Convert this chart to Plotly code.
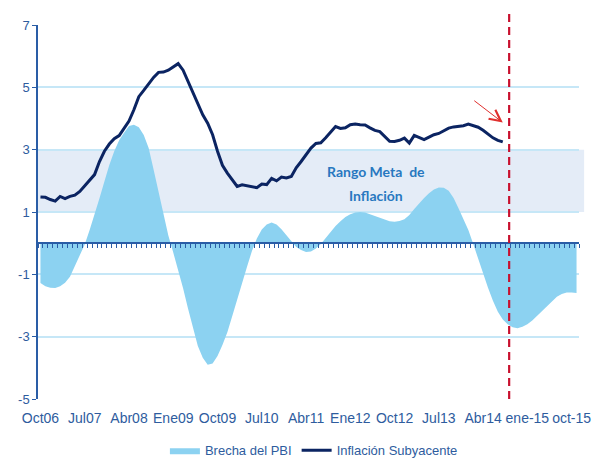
import plotly.graph_objects as go

# Monthly series, Oct-2006 .. Nov-2015 (month index 0..109)
months = list(range(110))

# Output gap (% of potential GDP)
brecha_pbi = [
    -1.28, -1.38, -1.43, -1.44, -1.38, -1.27, -1.08, -0.75, -0.42, -0.04,
    0.42, 0.91, 1.44, 1.98, 2.51, 2.95, 3.30, 3.54, 3.76, 3.80,
    3.72, 3.47, 3.05, 2.36, 1.62, 0.88, 0.25, -0.30, -0.85, -1.45,
    -2.10, -2.75, -3.30, -3.68, -3.90, -3.86, -3.62, -3.27, -2.86, -2.34,
    -1.79, -1.23, -0.76, -0.25, 0.15, 0.44, 0.60, 0.66, 0.60, 0.45,
    0.27, 0.07, -0.12, -0.22, -0.28, -0.27, -0.17, -0.03, 0.17, 0.36,
    0.55, 0.70, 0.84, 0.93, 0.98, 1.00, 0.98, 0.93, 0.87, 0.80,
    0.74, 0.70, 0.69, 0.71, 0.77, 0.90, 1.10, 1.28, 1.45, 1.60,
    1.72, 1.79, 1.78, 1.68, 1.45, 1.12, 0.78, 0.42, -0.03, -0.52,
    -1.00, -1.43, -1.85, -2.20, -2.45, -2.60, -2.70, -2.73, -2.68, -2.60,
    -2.48, -2.33, -2.17, -2.00, -1.85, -1.72, -1.63, -1.58, -1.58, -1.60,
]

# Core inflation (12-month %), Oct-2006 .. Aug-2014
inflacion_subyacente = [
    1.48, 1.47, 1.40, 1.35, 1.50, 1.43, 1.50, 1.54, 1.66, 1.85,
    2.03, 2.20, 2.62, 2.95, 3.18, 3.35, 3.45, 3.70, 3.92, 4.28,
    4.70, 4.90, 5.12, 5.32, 5.48, 5.49, 5.55, 5.67, 5.76, 5.55,
    5.20, 4.80, 4.45, 4.12, 3.85, 3.48, 2.95, 2.50, 2.25, 2.02,
    1.82, 1.87, 1.84, 1.80, 1.78, 1.90, 1.88, 2.08, 2.00, 2.12,
    2.09, 2.14, 2.42, 2.62, 2.85, 3.05, 3.20, 3.22, 3.38, 3.55,
    3.74, 3.68, 3.70, 3.80, 3.82, 3.80, 3.79, 3.70, 3.62, 3.58,
    3.44, 3.27, 3.26, 3.30, 3.37, 3.21, 3.46, 3.40, 3.32, 3.40,
    3.48, 3.52, 3.60, 3.69, 3.73, 3.75, 3.77, 3.82, 3.77, 3.72,
    3.62, 3.50, 3.38, 3.30, 3.25,
]

tick_positions = [0, 9, 18, 27, 36, 45, 54, 63, 72, 81, 90, 99, 108]
tick_labels = ["Oct06", "Jul07", "Abr08", "Ene09", "Oct09", "Jul10", "Abr11",
               "Ene12", "Oct12", "Jul13", "Abr14", "ene-15", "oct-15"]
y_ticks = [-5, -3, -1, 1, 3, 5, 7]
y_tick_labels = ["-5", "-3", "-1", "1", "3", "5", "7"]

meta_rango = (1, 3)          # inflation target band
corte_proyeccion = 95.3      # forecast cut-off

SANS = "Liberation Sans, Arial, sans-serif"
TXT_BLUE = "#2E5C9E"
AXIS_BLUE = "#2A5DA6"

fig = go.Figure()

fig.add_trace(go.Scatter(
    x=months, y=brecha_pbi, name="Brecha del PBI",
    xaxis="x2", yaxis="y",
    mode="lines", line=dict(width=0, color="#8CD2F1"),
    fill="tozeroy", fillcolor="#8CD2F1", hoverinfo="skip",
))
fig.add_trace(go.Scatter(
    x=months[:len(inflacion_subyacente)], y=inflacion_subyacente,
    name="Inflación Subyacente", mode="lines",
    line=dict(color="#0B2462", width=3), hoverinfo="skip",
))

xrange = [-0.5, 109.5]
fig.update_layout(
    width=597, height=459,
    margin=dict(l=38, r=18, t=25, b=60, autoexpand=False),
    paper_bgcolor="white", plot_bgcolor="white",
    showlegend=True,
    legend=dict(orientation="h", x=0.51, xanchor="center", y=-0.137, yanchor="middle",
                font=dict(family=SANS, size=13, color=TXT_BLUE),
                itemwidth=30, tracegroupgap=0),
    xaxis=dict(range=xrange, tickmode="array", tickvals=tick_positions, ticktext=tick_labels,
               showgrid=False, zeroline=False, showline=False, ticks="",
               tickangle=0, automargin=False, ticklabelstandoff=9,
               tickfont=dict(family=SANS, size=14, color=TXT_BLUE)),
    # category axis drawn through zero, with a tick between every month
    xaxis2=dict(range=xrange, overlaying="x", anchor="free", position=5 / 12,
                showline=True, linecolor=AXIS_BLUE, linewidth=2,
                ticks="outside", tickmode="linear", tick0=-0.5, dtick=1,
                ticklen=4, tickwidth=1, tickcolor=AXIS_BLUE, automargin=False,
                showticklabels=False, showgrid=False, zeroline=False),
    yaxis=dict(range=[-5, 7], tickmode="array", tickvals=y_ticks, ticktext=y_tick_labels,
               showgrid=True, gridcolor="#C6E7F7", gridwidth=1.5,
               zeroline=False, showline=True, linecolor=AXIS_BLUE, linewidth=1.5,
               ticks="outside", ticklen=4, tickcolor=AXIS_BLUE, automargin=False,
               tickfont=dict(family=SANS, size=13, color=TXT_BLUE)),
    shapes=[
        dict(type="rect", xref="paper", yref="y", x0=0, x1=1.0095,
             y0=meta_rango[0], y1=meta_rango[1], fillcolor="#E4ECF7",
             line=dict(width=0), layer="below"),
        dict(type="line", xref="x", yref="paper", x0=corte_proyeccion, x1=corte_proyeccion,
             y0=0, y1=1.04, line=dict(color="#C8102E", width=2.2, dash="8px,5px"),
             layer="above"),
    ],
    annotations=[
        dict(x=68.2, y=2.29, xref="x", yref="y", showarrow=False,
             text="<b>Rango Meta\u00a0 de</b>",
             font=dict(family="Lato, Carlito, sans-serif", size=14, color="#2878C0")),
        dict(x=68.2, y=1.52, xref="x", yref="y", showarrow=False,
             text="<b>Inflación</b>",
             font=dict(family="Lato, Carlito, sans-serif", size=14, color="#2878C0")),
        dict(x=94.0, y=3.87, xref="x", yref="y", text="", showarrow=True,
             ax=-30, ay=-23, arrowhead=5, arrowsize=2.2, arrowwidth=1,
             arrowcolor="#E0302E"),
    ],
)

fig.write_html("out.html")
